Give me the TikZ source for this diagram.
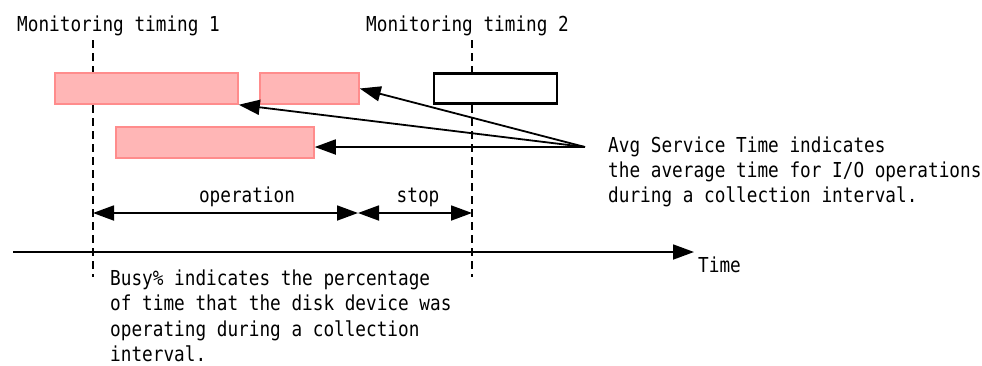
\documentclass[tikz,border=0pt]{standalone}
\usepackage{fontspec}
\newfontfamily\diagfont[FakeStretch=0.86]{DejaVu Sans Mono}
\usetikzlibrary{arrows.meta}
\definecolor{busyfill}{RGB}{255,182,182}
\definecolor{busyline}{RGB}{255,140,140}
\begin{document}
\begin{tikzpicture}
    [
    x=1pt,y=-1pt,
    every node/.style={font=\diagfont\fontsize{20.6}{25.4}\selectfont,inner sep=0pt},
    label/.style={anchor=base west},
    note/.style={anchor=north west,align=left},
    busy/.style={draw=busyline,fill=busyfill,line width=1.5pt,minimum height=31pt},
    idle/.style={draw,fill=white,line width=2.5pt,minimum height=30pt},
    timing/.style={line width=1.8pt,dash pattern=on 8pt off 5pt},
    tip/.style={-{Triangle[length=21pt,width=15pt]},line width=1.8pt},
    span/.style={{Triangle[length=21pt,width=15pt]}-{Triangle[length=21pt,width=15pt]},line width=1.8pt},
    ]
    \useasboundingbox (0,0) rectangle (982,365);
    \node (m1) at (17,31) [label] {Monitoring timing 1};
    \node (m2) at (366,31) [label] {Monitoring timing 2};
    \coordinate (t1top) at (93,40);
    \coordinate (t1bot) at (93,277);
    \coordinate (t2top) at (472,40);
    \coordinate (t2bot) at (472,277);
    \draw [timing] (t1top) to (t1bot);
    \draw [timing] (t2top) to (t2bot);
    \node (b1) at (146.5,88.5) [busy,minimum width=183pt] {};
    \node (b2) at (309.5,88.5) [busy,minimum width=99pt] {};
    \node (b3) at (215,142.5) [busy,minimum width=198pt] {};
    \node (w1) at (495.5,88.5) [idle,minimum width=123pt] {};
    \coordinate (src) at (585,147);
    \draw [tip] (src) to (b2.east);
    \draw [tip] (src) to (b1.south east);
    \draw [tip] (src) to (src -| b3.east);
    \node (avg) at (608,136.3) [note] {Avg Service Time indicates\\the average time for I/O operations\\during a collection interval.};
    \coordinate (op1) at (93,213);
    \coordinate (op2) at (358,213);
    \coordinate (op3) at (472,213);
    \draw [span] (op1) to (op2);
    \draw [span] (op2) to (op3);
    \node (op) at (247,202) [anchor=base] {operation};
    \node (st) at (418,202) [anchor=base] {stop};
    \coordinate (ax1) at (13,252);
    \coordinate (ax2) at (694,252);
    \draw [tip] (ax1) to (ax2);
    \node (tm) at (698,272) [label] {Time};
    \node (bz) at (110,269.4) [note] {Busy\% indicates the percentage\\of time that the disk device was\\operating during a collection\\interval.};
  \end{tikzpicture}
\end{document}
